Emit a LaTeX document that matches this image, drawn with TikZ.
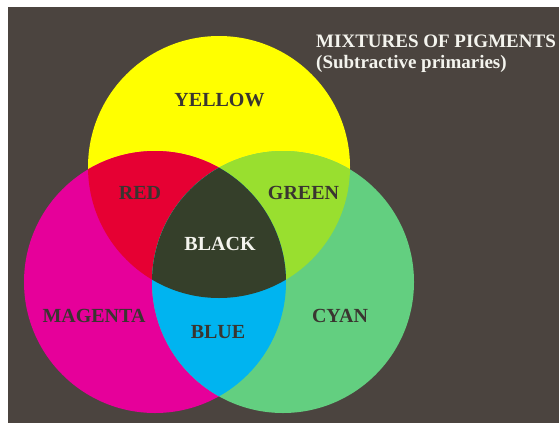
\documentclass[tikz,border=0pt]{standalone}
\usepackage{fontspec}
\setmainfont{Liberation Serif}
\usetikzlibrary{positioning}
\definecolor{bgbrown}{HTML}{4B443F}
\definecolor{pyellow}{HTML}{FFFF00}
\definecolor{pmagenta}{HTML}{E6009A}
\definecolor{pcyan}{HTML}{63CF80}
\definecolor{pred}{HTML}{E60033}
\definecolor{pgreen}{HTML}{99DF2F}
\definecolor{pblue}{HTML}{00B4F0}
\definecolor{pblack}{HTML}{353F2A}
\definecolor{inkdark}{HTML}{3A3530}
\definecolor{inklight}{HTML}{F4F4EE}
\tikzset{
  pigment/.style = {font=\bfseries\fontsize{20}{24}\selectfont,
                    text=inkdark, inner sep=0pt},
  titletext/.style = {font=\bfseries\fontsize{19}{21}\selectfont,
                      text=inklight, inner sep=0pt, align=left},
}
\newcommand{\disc}[1]{(#1) circle[radius=131]}

\begin{document}
\begin{tikzpicture}[x=1pt,y=-1pt]
\useasboundingbox (0,0) rectangle (559,423);
\fill[white] (0,0) rectangle (559,423);
\fill[bgbrown] (8,7) rectangle (559,423);
\coordinate (Yc) at (219,167);
\coordinate (Mc) at (155,282);
\coordinate (Cc) at (283,282);
% the three primaries
\fill[pyellow] \disc{Yc};
\fill[pmagenta] \disc{Mc};
\fill[pcyan] \disc{Cc};
% two-way mixtures
\begin{scope}
  \clip \disc{Yc};
  \fill[pred] \disc{Mc};
  \fill[pgreen] \disc{Cc};
\end{scope}
\begin{scope}
  \clip \disc{Mc};
  \fill[pblue] \disc{Cc};
\end{scope}
% all three
\begin{scope}
  \clip \disc{Yc};
  \clip \disc{Mc};
  \fill[pblack] \disc{Cc};
\end{scope}
% labels
\node[pigment] (yellow) at (219.5,100) {YELLOW};
\node[pigment] (red) at (140,193) {RED};
\node[pigment] (green) at (303.5,193) {GREEN};
\node[pigment,text=inklight] (black) at (220,244) {BLACK};
\node[pigment] (magenta) at (94,316) {MAGENTA};
\node[pigment] (blue) at (218,332) {BLUE};
\node[pigment] (cyan) at (340,316) {CYAN};
\node[titletext,anchor=base west] (title) at (316,68)
  {MIXTURES OF PIGMENTS\\(Subtractive primaries)};
\end{tikzpicture}
\end{document}
